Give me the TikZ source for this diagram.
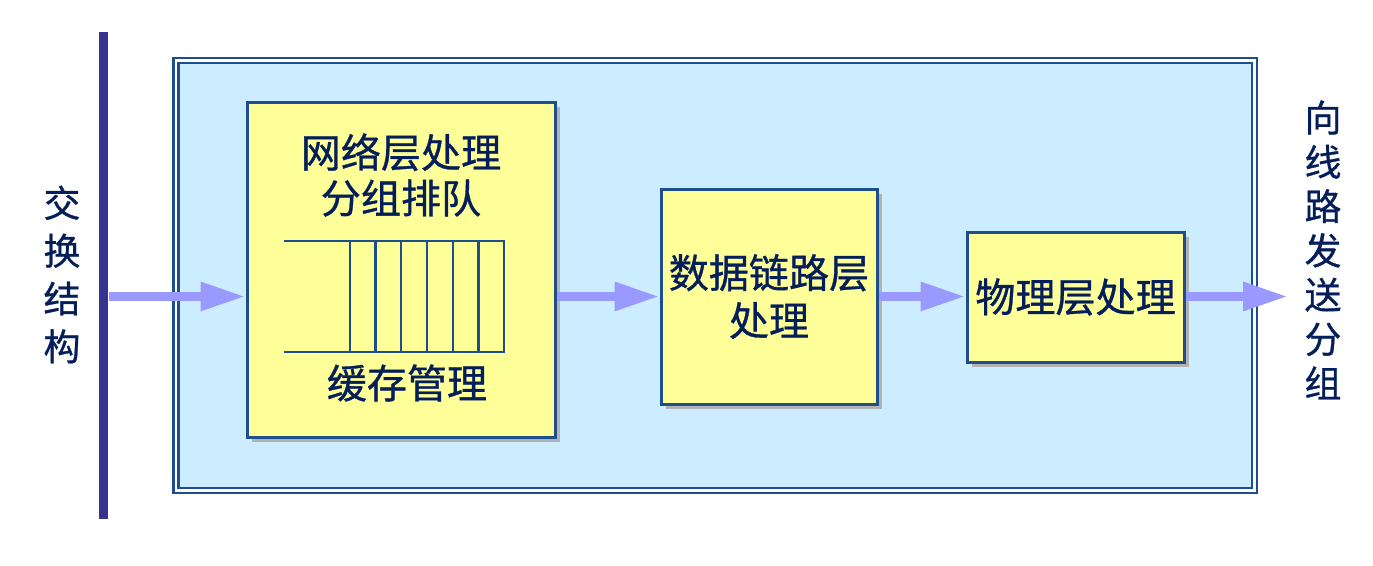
\documentclass[tikz,border=0pt]{standalone}
\usepackage{fontspec}
\setmainfont{Noto Sans CJK SC}[FakeBold=0.8]
\usepackage{tikz}
\usetikzlibrary{arrows.meta,shadows}
\definecolor{panelBlue}{RGB}{204,236,255}
\definecolor{boxYellow}{RGB}{255,255,153}
\definecolor{edgeBlue}{RGB}{31,78,140}
\definecolor{textNavy}{RGB}{4,30,90}
\definecolor{fabricBlue}{RGB}{54,51,145}
\definecolor{flowBlue}{RGB}{153,153,255}

\begin{document}
\begin{tikzpicture}[
    panel/.style={draw=edgeBlue,line width=0.02cm,double=white,double distance=0.03cm,
      fill=panelBlue,inner sep=0pt},
    stage/.style={draw=edgeBlue,line width=0.03cm,fill=boxYellow,
      general shadow={fill=black!30,shadow xshift=0.05cm,shadow yshift=-0.05cm},
      inner sep=0pt,text=textNavy,font=\fontsize{11.4}{13.6}\selectfont,align=center},
    boxtext/.style={text=textNavy,font=\fontsize{11.4}{13}\selectfont,align=center,inner sep=0pt},
    sidetext/.style={text=textNavy,align=center,inner sep=0pt},
    slot/.style={edgeBlue,line width=0.025cm},
    flow/.style={flowBlue,line width=0.09cm,-{Triangle[length=0.45cm,width=0.27cm]}}
  ]
  \useasboundingbox (0,0) rectangle (13.73,5.65);
  % Switch fabric
  \node[fill=fabricBlue,minimum width=0.09cm,minimum height=4.87cm,inner sep=0pt] (fabric) at (1.035,2.895) {};
  \node[sidetext,font=\fontsize{10.5}{13.6}\selectfont] (fabrictext) at (0.62,2.905) {交\\换\\结\\构};
  % Line card
  \node[panel,minimum width=10.78cm,minimum height=4.30cm] (card) at (7.15,2.90) {};
  % Stages
  \node[stage,minimum width=3.08cm,minimum height=3.35cm] (netbox) at (4.01,2.955) {};
  \node[boxtext] (nettitle) at (4.01,3.90) {网络层处理\\分组排队};
  \node[boxtext] (buffer) at (4.07,1.82) {缓存管理};
  \node[stage,minimum width=2.16cm,minimum height=2.15cm] (linkbox) at (7.69,2.685) {数据链路层\\处理};
  \node[stage,minimum width=2.17cm,minimum height=1.30cm] (phybox) at (10.755,2.68) {物理层处理};
  % Queue
  \draw[slot] (2.84,3.24) -- (5.04,3.24) -- (5.04,2.13) -- (2.84,2.13);
  \foreach \x in {3.50,3.755,4.01,4.27,4.53,4.785}
    \draw[slot] (\x,3.24) -- (\x,2.13);
  % Output
  \coordinate (send) at (12.88,2.685);
  \node[sidetext,font=\fontsize{10.5}{12.6}\selectfont] (sendtext) at (13.23,3.15) {向\\线\\路\\发\\送\\分\\组};
  % Arrows
  \draw[flow] (fabric.east |- linkbox) -- (netbox.west |- linkbox);
  \draw[flow] (netbox.east |- linkbox) -- (linkbox.west);
  \draw[flow] (linkbox.east) -- (phybox.west |- linkbox);
  \draw[flow] (phybox.east |- linkbox) -- (send);
\end{tikzpicture}
\end{document}
